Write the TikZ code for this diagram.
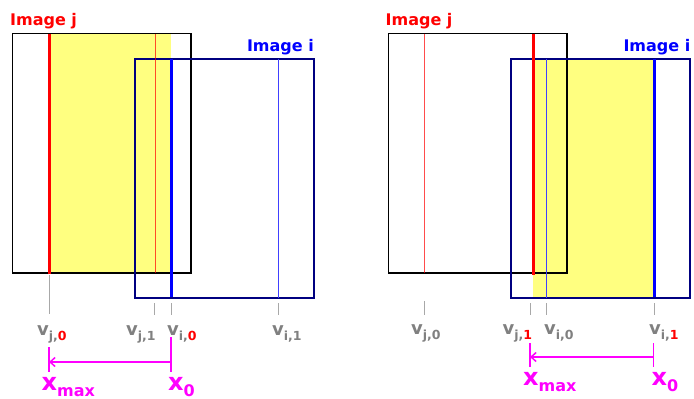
\documentclass[tikz,border=0pt]{standalone}
\usepackage{fontspec}
\setmainfont{DejaVu Sans}
\usetikzlibrary{arrows.meta}
\definecolor{navy}{HTML}{000080}
\definecolor{lyell}{HTML}{FFFF80}
\definecolor{tgray}{HTML}{808080}
\definecolor{tick}{HTML}{A8A8A8}
\definecolor{mag}{HTML}{FF00FF}
\definecolor{thinblue}{HTML}{4040FF}
\newcommand{\vlab}[3]{{\fontsize{18}{18}\selectfont\bfseries v}\raisebox{-5pt}{\fontsize{12.5}{12.5}\selectfont\bfseries #1,#2}}
\newcommand{\rsub}[1]{\textcolor{red}{\bfseries #1}}
\newcommand{\xlab}[1]{{\fontsize{24}{24}\selectfont\bfseries x}\raisebox{-6pt}{\fontsize{16}{16}\selectfont\bfseries #1}}
\tikzset{
  jbox/.style={draw=black, line width=1.8pt},
  ibox/.style={draw=navy, line width=2pt},
  thickred/.style={draw=red, line width=3pt},
  thickblue/.style={draw=blue, line width=3pt},
  thinred/.style={draw=red, draw opacity=0.7, line width=0.8pt},
  thinblu/.style={draw=thinblue, line width=0.8pt},
  ticks/.style={draw=tick, line width=0.9pt},
  vtext/.style={text=tgray, inner sep=0pt, anchor=base west},
  xtext/.style={text=mag, inner sep=0pt, anchor=base west},
  title/.style={inner sep=0pt, font=\fontsize{16}{16}\selectfont\bfseries},
  magline/.style={draw=mag, line width=1.6pt},
  magarrow/.style={draw=mag, line width=1.8pt, -{Straight Barb[length=5pt,width=9pt,line width=1.5pt]}}
}
\begin{document}
\begin{tikzpicture}[x=1pt,y=-1pt]
\useasboundingbox (0,0) rectangle (694,399);
% ================= LEFT PANEL =================
\fill[lyell] (49,33) rectangle (171,273);
\draw[jbox] (12.5,33.5) rectangle (191,273);
\draw[ibox] (135,58.5) rectangle (313.5,297.5);
\draw[thinred] (155.5,33.5) -- (155.5,273);
\draw[thinblu] (278,58.5) -- (278,297.5);
\draw[thickred] (49,33.5) -- (49,274);
\draw[thickblue] (171,58.5) -- (171,297);
\node[title, text=red, anchor=base west] (tjL) at (10,25.5) {Image j};
\node[title, text=blue, anchor=base east] (tiL) at (314,51) {Image i};
% ticks
\coordinate (aL1) at (49,275); \coordinate (aL2) at (49,314);
\coordinate (bL1) at (154.5,303); \coordinate (bL2) at (154.5,315);
\coordinate (cL1) at (171,303); \coordinate (cL2) at (171,315);
\coordinate (dL1) at (278,303); \coordinate (dL2) at (278,315);
\draw[ticks] (aL1) -- (aL2);
\draw[ticks] (bL1) -- (bL2);
\draw[ticks] (cL1) -- (cL2);
\draw[ticks] (dL1) -- (dL2);
\node[vtext] (vj0L) at (37,335) {\vlab{j}{\rsub{0}}{}};
\node[vtext] (vj1L) at (126,335) {\vlab{j}{1}{}};
\node[vtext] (vi0L) at (167,335) {\vlab{i}{\rsub{0}}{}};
\node[vtext] (vi1L) at (272,335) {\vlab{i}{1}{}};
% magenta
\coordinate (mL1) at (49,347); \coordinate (mL2) at (49,372);
\coordinate (mR1) at (171,337); \coordinate (mR2) at (171,372);
\coordinate (arL) at (49,362); \coordinate (arR) at (171,362);
\draw[magline] (mL1) -- (mL2);
\draw[magline] (mR1) -- (mR2);
\draw[magarrow] (arR) -- (arL);
\node[xtext] (xmaxL) at (41.5,390.5) {\xlab{max}};
\node[xtext] (x0L) at (168,390.5) {\xlab{0}};
% ================= RIGHT PANEL =================
\fill[lyell] (533,58.5) rectangle (654,297.5);
\draw[jbox] (388.5,33.5) rectangle (567,273);
\draw[ibox] (511,58.5) rectangle (689.5,297.5);
\draw[thinred] (424.5,33.5) -- (424.5,273);
\draw[thinblu] (546.5,58.5) -- (546.5,297.5);
\draw[thickred] (533,33.5) -- (533,275);
\draw[thickblue] (654,58.5) -- (654,297);
\node[title, text=red, anchor=base west] (tjR) at (385.5,25.5) {Image j};
\node[title, text=blue, anchor=base east] (tiR) at (690.5,51) {Image i};
% ticks
\coordinate (aR1) at (424.5,301); \coordinate (aR2) at (424.5,315);
\coordinate (bR1) at (530,303); \coordinate (bR2) at (530,315);
\coordinate (cR1) at (546.5,303); \coordinate (cR2) at (546.5,315);
\coordinate (dR1) at (654,303); \coordinate (dR2) at (654,315);
\draw[ticks] (aR1) -- (aR2);
\draw[ticks] (bR1) -- (bR2);
\draw[ticks] (cR1) -- (cR2);
\draw[ticks] (dR1) -- (dR2);
\node[vtext] (vj0R) at (411,334) {\vlab{j}{0}{}};
\node[vtext] (vj1R) at (502.5,334) {\vlab{j}{\rsub{1}}{}};
\node[vtext] (vi0R) at (544,334) {\vlab{i}{0}{}};
\node[vtext] (vi1R) at (649,334) {\vlab{i}{\rsub{1}}{}};
% magenta
\coordinate (nL1) at (530,343); \coordinate (nL2) at (530,367);
\coordinate (nR1) at (653.5,343); \coordinate (nR2) at (653.5,367);
\coordinate (brL) at (530,357); \coordinate (brR) at (653.5,357);
\draw[magline] (nL1) -- (nL2);
\draw[magline] (nR1) -- (nR2);
\draw[magarrow] (brR) -- (brL);
\node[xtext] (xmaxR) at (523,385) {\xlab{max}};
\node[xtext] (x0R) at (651.5,385) {\xlab{0}};
\end{tikzpicture}
\end{document}
